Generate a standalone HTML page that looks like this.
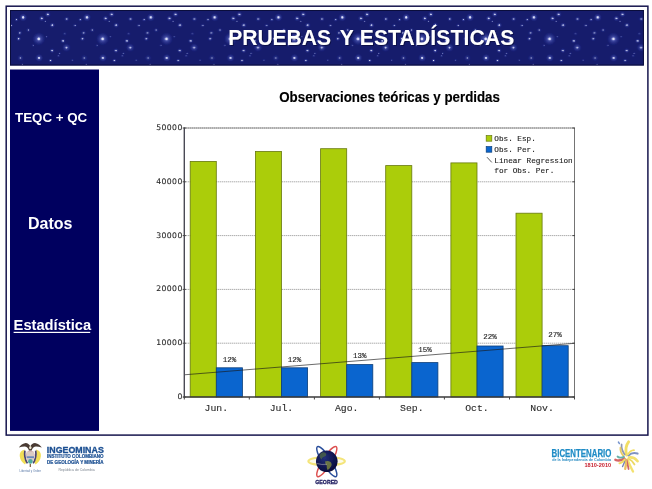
<!DOCTYPE html>
<html lang="es">
<head>
<meta charset="utf-8">
<title>Pruebas y Estadísticas</title>
<style>
html,body{margin:0;padding:0;background:#fff;}
body{width:652px;height:489px;overflow:hidden;position:relative;font-family:"Liberation Sans",sans-serif;}
svg{position:absolute;left:0;top:0;display:block;}
text{font-family:"Liberation Sans",sans-serif;}
.title{font-weight:bold;font-size:21px;fill:#fff;}
.side{font-weight:bold;fill:#fff;}
.ct{font-weight:bold;font-size:13.33px;fill:#000;stroke:#000;stroke-width:.15px;}
.yl{font-family:"DejaVu Sans","Liberation Sans",sans-serif;font-size:7.7px;fill:#2a2a2a;letter-spacing:.4px;stroke:#2a2a2a;stroke-width:.12px;}
.xl{font-family:"Liberation Mono",monospace;font-size:9.8px;fill:#2c2c2c;stroke:#2c2c2c;stroke-width:.12px;}
.pl{font-family:"Liberation Mono",monospace;font-size:7.5px;fill:#1c1c1c;stroke:#1c1c1c;stroke-width:.12px;}
.lg{font-family:"Liberation Mono",monospace;font-size:7.7px;fill:#1c1c1c;stroke:#1c1c1c;stroke-width:.12px;}
</style>
</head>
<body>
<svg width="652" height="489" viewBox="0 0 652 489">
<defs>
<radialGradient id="sg"><stop offset="0" stop-color="#aab4ff" stop-opacity=".9"/><stop offset=".45" stop-color="#6f7be0" stop-opacity=".45"/><stop offset="1" stop-color="#3c48b0" stop-opacity="0"/></radialGradient>
<radialGradient id="sc"><stop offset="0" stop-color="#ffffff" stop-opacity="1"/><stop offset=".6" stop-color="#e4e8ff" stop-opacity=".9"/><stop offset="1" stop-color="#b8c0ff" stop-opacity="0"/></radialGradient>
<pattern id="stars" x="10" y="10" width="63.85" height="64" patternUnits="userSpaceOnUse">
<rect width="64" height="64" fill="#131a6c"/>
<circle cx="13.1" cy="7.4" r="4.3" fill="url(#sg)" opacity="0.75"/>
<circle cx="13.1" cy="7.4" r="1.6" fill="url(#sc)" opacity="0.92"/>
<circle cx="6.4" cy="9.7" r="2.2" fill="url(#sg)" opacity="0.60"/>
<circle cx="6.4" cy="9.7" r="0.8" fill="url(#sc)" opacity="0.74"/>
<circle cx="31.7" cy="8.4" r="3.2" fill="url(#sg)" opacity="0.64"/>
<circle cx="31.7" cy="8.4" r="1.2" fill="url(#sc)" opacity="0.78"/>
<circle cx="37.8" cy="4.4" r="3.2" fill="url(#sg)" opacity="0.64"/>
<circle cx="37.8" cy="4.4" r="1.2" fill="url(#sc)" opacity="0.78"/>
<circle cx="35.3" cy="11.3" r="1.6" fill="url(#sg)" opacity="0.38"/>
<circle cx="35.3" cy="11.3" r="0.6" fill="url(#sc)" opacity="0.46"/>
<circle cx="42.3" cy="15.2" r="3.0" fill="url(#sg)" opacity="0.64"/>
<circle cx="42.3" cy="15.2" r="1.2" fill="url(#sc)" opacity="0.78"/>
<circle cx="56.7" cy="9.0" r="3.0" fill="url(#sg)" opacity="0.45"/>
<circle cx="56.7" cy="9.0" r="1.1" fill="url(#sc)" opacity="0.55"/>
<circle cx="18.4" cy="20.1" r="2.7" fill="url(#sg)" opacity="0.38"/>
<circle cx="18.4" cy="20.1" r="1.0" fill="url(#sc)" opacity="0.46"/>
<circle cx="9.8" cy="22.9" r="3.0" fill="url(#sg)" opacity="0.38"/>
<circle cx="9.8" cy="22.9" r="1.1" fill="url(#sc)" opacity="0.46"/>
<circle cx="8.6" cy="28.7" r="2.7" fill="url(#sg)" opacity="0.60"/>
<circle cx="8.6" cy="28.7" r="1.1" fill="url(#sc)" opacity="0.74"/>
<circle cx="28.8" cy="28.9" r="6.8" fill="url(#sg)" opacity="0.75"/>
<circle cx="28.8" cy="28.9" r="1.9" fill="url(#sc)" opacity="0.92"/>
<circle cx="36.6" cy="26.8" r="1.4" fill="url(#sg)" opacity="0.45"/>
<circle cx="36.6" cy="26.8" r="0.5" fill="url(#sc)" opacity="0.55"/>
<circle cx="53.0" cy="30.9" r="2.7" fill="url(#sg)" opacity="0.64"/>
<circle cx="53.0" cy="30.9" r="1.1" fill="url(#sc)" opacity="0.78"/>
<circle cx="54.8" cy="23.8" r="2.2" fill="url(#sg)" opacity="0.30"/>
<circle cx="54.8" cy="23.8" r="0.7" fill="url(#sc)" opacity="0.37"/>
<circle cx="1.0" cy="15.5" r="2.4" fill="url(#sg)" opacity="0.30"/>
<circle cx="1.0" cy="15.5" r="0.7" fill="url(#sc)" opacity="0.37"/>
<circle cx="64.8" cy="15.5" r="2.4" fill="url(#sg)" opacity="0.30"/>
<circle cx="64.8" cy="15.5" r="0.7" fill="url(#sc)" opacity="0.37"/>
<circle cx="56.4" cy="37.6" r="4.6" fill="url(#sg)" opacity="0.60"/>
<circle cx="56.4" cy="37.6" r="1.3" fill="url(#sc)" opacity="0.74"/>
<circle cx="42.1" cy="40.6" r="2.7" fill="url(#sg)" opacity="0.64"/>
<circle cx="42.1" cy="40.6" r="1.1" fill="url(#sc)" opacity="0.78"/>
<circle cx="23.1" cy="35.4" r="1.9" fill="url(#sg)" opacity="0.30"/>
<circle cx="23.1" cy="35.4" r="0.6" fill="url(#sc)" opacity="0.37"/>
<circle cx="49.7" cy="43.4" r="1.6" fill="url(#sg)" opacity="0.38"/>
<circle cx="49.7" cy="43.4" r="0.6" fill="url(#sc)" opacity="0.46"/>
<circle cx="48.5" cy="45.9" r="1.9" fill="url(#sg)" opacity="0.34"/>
<circle cx="48.5" cy="45.9" r="0.6" fill="url(#sc)" opacity="0.41"/>
<circle cx="10.4" cy="48.0" r="3.8" fill="url(#sg)" opacity="0.34"/>
<circle cx="10.4" cy="48.0" r="1.2" fill="url(#sc)" opacity="0.41"/>
<circle cx="29.1" cy="47.9" r="4.3" fill="url(#sg)" opacity="0.68"/>
<circle cx="29.1" cy="47.9" r="1.4" fill="url(#sc)" opacity="0.83"/>
<circle cx="40.5" cy="50.5" r="2.2" fill="url(#sg)" opacity="0.71"/>
<circle cx="40.5" cy="50.5" r="1.0" fill="url(#sc)" opacity="0.87"/>
<circle cx="-1.4" cy="50.1" r="1.6" fill="url(#sg)" opacity="0.34"/>
<circle cx="-1.4" cy="50.1" r="0.6" fill="url(#sc)" opacity="0.41"/>
<circle cx="62.4" cy="50.1" r="1.6" fill="url(#sg)" opacity="0.34"/>
<circle cx="62.4" cy="50.1" r="0.6" fill="url(#sc)" opacity="0.41"/>
<circle cx="1.5" cy="15.5" r="1.6" fill="url(#sg)" opacity="0.34"/>
<circle cx="1.5" cy="15.5" r="0.6" fill="url(#sc)" opacity="0.41"/>
<circle cx="65.3" cy="15.5" r="1.6" fill="url(#sg)" opacity="0.34"/>
<circle cx="65.3" cy="15.5" r="0.6" fill="url(#sc)" opacity="0.41"/>
<circle cx="12.3" cy="54.4" r="1.4" fill="url(#sg)" opacity="0.52"/>
<circle cx="12.3" cy="54.4" r="0.6" fill="url(#sc)" opacity="0.64"/>
</pattern>
<radialGradient id="globe" cx=".4" cy=".35" r=".75"><stop offset="0" stop-color="#22307a"/><stop offset=".6" stop-color="#10154e"/><stop offset="1" stop-color="#080a30"/></radialGradient>
<clipPath id="hc"><rect x="10" y="10" width="633.9" height="55.5"/></clipPath>
<filter id="sb" x="0" y="0" width="1" height="1"><feGaussianBlur stdDeviation="0.55"/></filter>
<filter id="b1" x="-20%" y="-20%" width="140%" height="140%"><feGaussianBlur stdDeviation="0.5"/></filter>
<filter id="b3" x="-20%" y="-20%" width="140%" height="140%"><feGaussianBlur stdDeviation="0.65"/></filter>
<filter id="tsh" x="-2%" y="-20%" width="104%" height="150%"><feOffset in="SourceAlpha" dx=".8" dy=".8" result="o"/><feFlood flood-color="#00001c" flood-opacity=".45"/><feComposite in2="o" operator="in" result="s"/><feMerge><feMergeNode in="s"/><feMergeNode in="SourceGraphic"/></feMerge></filter>
<filter id="b2" x="-20%" y="-20%" width="140%" height="140%"><feGaussianBlur stdDeviation="0.8"/></filter>
<filter id="ts" x="-5%" y="-20%" width="110%" height="150%"><feGaussianBlur stdDeviation="0.35"/></filter>
</defs>
<rect width="652" height="489" fill="#fff"/>
<!-- outer frame -->
<rect x="6.2" y="6.2" width="641.7" height="428.9" fill="none" stroke="#17164e" stroke-width="1.5"/>
<!-- header -->
<g clip-path="url(#hc)"><rect x="2" y="2" width="650" height="72" fill="url(#stars)" filter="url(#sb)"/></g>
<rect x="10.5" y="10.5" width="632.9" height="54.5" fill="none" stroke="#0a0d3c" stroke-width="1"/>
<g transform="translate(0,45.2) scale(1,1.05)">
<text class="title" y="0" filter="url(#tsh)"><tspan x="228.3">PRUEBAS</tspan> <tspan x="339.8">Y</tspan> <tspan x="359.7" letter-spacing=".2">ESTADÍSTICAS</tspan></text>
</g>
<!-- sidebar -->
<rect x="10" y="69.5" width="89" height="361.4" fill="#00005f"/>
<text class="side" x="15" y="122.2" font-size="13.33">TEQC + QC</text>
<text class="side" x="28" y="228.9" font-size="16">Datos</text>
<text class="side" x="13.6" y="330.2" font-size="14.7">Estadística</text>
<rect x="13.6" y="331.8" width="76.6" height="1.2" fill="#fff"/>
<!-- chart -->
<text class="ct" transform="translate(389.6,101.5) scale(1,1.07)" x="0" y="0" text-anchor="middle">Observaciones teóricas y perdidas</text>
<line x1="184.3" y1="343.2" x2="574.5" y2="343.2" stroke="#8a8a8a" stroke-width="1" stroke-dasharray="1 1"/>
<line x1="184.3" y1="289.4" x2="574.5" y2="289.4" stroke="#8a8a8a" stroke-width="1" stroke-dasharray="1 1"/>
<line x1="184.3" y1="235.6" x2="574.5" y2="235.6" stroke="#8a8a8a" stroke-width="1" stroke-dasharray="1 1"/>
<line x1="184.3" y1="181.8" x2="574.5" y2="181.8" stroke="#8a8a8a" stroke-width="1" stroke-dasharray="1 1"/>
<line x1="184.3" y1="128.0" x2="574.5" y2="128.0" stroke="#b0b0b0" stroke-width="1"/>
<line x1="184.3" y1="128.0" x2="574.5" y2="128.0" stroke="#505050" stroke-width="1" stroke-dasharray="1 1" opacity=".9"/>
<line x1="574.5" y1="128.0" x2="574.5" y2="397.0" stroke="#505050" stroke-width="0.8"/>
<rect x="190.2" y="161.4" width="26.1" height="235.6" fill="#abcd0a" stroke="#66780e" stroke-width="0.8"/>
<rect x="216.3" y="367.8" width="26.1" height="29.2" fill="#0a65cf" stroke="#0c3e78" stroke-width="0.8"/>
<rect x="255.4" y="151.5" width="26.1" height="245.5" fill="#abcd0a" stroke="#66780e" stroke-width="0.8"/>
<rect x="281.5" y="367.8" width="26.1" height="29.2" fill="#0a65cf" stroke="#0c3e78" stroke-width="0.8"/>
<rect x="320.6" y="148.7" width="26.1" height="248.3" fill="#abcd0a" stroke="#66780e" stroke-width="0.8"/>
<rect x="346.7" y="364.6" width="26.1" height="32.4" fill="#0a65cf" stroke="#0c3e78" stroke-width="0.8"/>
<rect x="385.7" y="165.6" width="26.1" height="231.4" fill="#abcd0a" stroke="#66780e" stroke-width="0.8"/>
<rect x="411.8" y="362.6" width="26.1" height="34.4" fill="#0a65cf" stroke="#0c3e78" stroke-width="0.8"/>
<rect x="450.9" y="162.9" width="26.1" height="234.1" fill="#abcd0a" stroke="#66780e" stroke-width="0.8"/>
<rect x="477.0" y="346.0" width="26.1" height="51.0" fill="#0a65cf" stroke="#0c3e78" stroke-width="0.8"/>
<rect x="516.0" y="213.2" width="26.1" height="183.8" fill="#abcd0a" stroke="#66780e" stroke-width="0.8"/>
<rect x="542.1" y="345.7" width="26.1" height="51.3" fill="#0a65cf" stroke="#0c3e78" stroke-width="0.8"/>
<line x1="184.3" y1="374.8" x2="574.5" y2="343.3" stroke="#1a1a1a" stroke-width="0.65"/>
<line x1="184.3" y1="127.5" x2="184.3" y2="397.8" stroke="#4a4a55" stroke-width="1.4"/>
<line x1="183.60000000000002" y1="397.0" x2="574.9" y2="397.0" stroke="#3a3a3a" stroke-width="1.4"/>
<line x1="182.70000000000002" y1="397.0" x2="185.9" y2="397.0" stroke="#444" stroke-width="1"/>
<line x1="572.5" y1="397.0" x2="575.0" y2="397.0" stroke="#444" stroke-width="1"/>
<line x1="182.70000000000002" y1="343.2" x2="185.9" y2="343.2" stroke="#444" stroke-width="1"/>
<line x1="572.5" y1="343.2" x2="575.0" y2="343.2" stroke="#444" stroke-width="1"/>
<line x1="182.70000000000002" y1="289.4" x2="185.9" y2="289.4" stroke="#444" stroke-width="1"/>
<line x1="572.5" y1="289.4" x2="575.0" y2="289.4" stroke="#444" stroke-width="1"/>
<line x1="182.70000000000002" y1="235.6" x2="185.9" y2="235.6" stroke="#444" stroke-width="1"/>
<line x1="572.5" y1="235.6" x2="575.0" y2="235.6" stroke="#444" stroke-width="1"/>
<line x1="182.70000000000002" y1="181.8" x2="185.9" y2="181.8" stroke="#444" stroke-width="1"/>
<line x1="572.5" y1="181.8" x2="575.0" y2="181.8" stroke="#444" stroke-width="1"/>
<line x1="182.70000000000002" y1="128.0" x2="185.9" y2="128.0" stroke="#444" stroke-width="1"/>
<line x1="572.5" y1="128.0" x2="575.0" y2="128.0" stroke="#444" stroke-width="1"/>
<line x1="184.3" y1="397.0" x2="184.3" y2="399.5" stroke="#444" stroke-width="1"/>
<line x1="249.3" y1="397.0" x2="249.3" y2="399.5" stroke="#444" stroke-width="1"/>
<line x1="314.4" y1="397.0" x2="314.4" y2="399.5" stroke="#444" stroke-width="1"/>
<line x1="379.4" y1="397.0" x2="379.4" y2="399.5" stroke="#444" stroke-width="1"/>
<line x1="444.4" y1="397.0" x2="444.4" y2="399.5" stroke="#444" stroke-width="1"/>
<line x1="509.5" y1="397.0" x2="509.5" y2="399.5" stroke="#444" stroke-width="1"/>
<line x1="574.5" y1="397.0" x2="574.5" y2="399.5" stroke="#444" stroke-width="1"/>
<text class="yl" x="182.7" y="399.0" text-anchor="end">0</text>
<text class="yl" x="182.7" y="345.2" text-anchor="end">10000</text>
<text class="yl" x="182.7" y="291.4" text-anchor="end">20000</text>
<text class="yl" x="182.7" y="237.6" text-anchor="end">30000</text>
<text class="yl" x="182.7" y="183.8" text-anchor="end">40000</text>
<text class="yl" x="182.7" y="130.0" text-anchor="end">50000</text>
<text class="xl" x="216.3" y="410.8" text-anchor="middle">Jun.</text>
<text class="xl" x="281.5" y="410.8" text-anchor="middle">Jul.</text>
<text class="xl" x="346.7" y="410.8" text-anchor="middle">Ago.</text>
<text class="xl" x="411.8" y="410.8" text-anchor="middle">Sep.</text>
<text class="xl" x="477.0" y="410.8" text-anchor="middle">Oct.</text>
<text class="xl" x="542.1" y="410.8" text-anchor="middle">Nov.</text>
<text class="pl" x="229.4" y="362.2" text-anchor="middle">12%</text>
<text class="pl" x="294.6" y="361.7" text-anchor="middle">12%</text>
<text class="pl" x="359.7" y="357.6" text-anchor="middle">13%</text>
<text class="pl" x="424.9" y="352.1" text-anchor="middle">15%</text>
<text class="pl" x="490.0" y="338.7" text-anchor="middle">22%</text>
<text class="pl" x="555.1" y="336.8" text-anchor="middle">27%</text>
<rect x="486.2" y="135.6" width="5.6" height="5.6" fill="#abcd0a" stroke="#66780e" stroke-width="0.7"/>
<rect x="486.2" y="146.6" width="5.6" height="5.6" fill="#0a65cf" stroke="#0c3e78" stroke-width="0.7"/>
<line x1="487" y1="157.2" x2="491.8" y2="162.4" stroke="#333" stroke-width="0.8"/>
<text class="lg" x="494.3" y="141.3">Obs. Esp.</text>
<text class="lg" x="494.3" y="151.9">Obs. Per.</text>
<text class="lg" x="494.3" y="163.1">Linear Regression</text>
<text class="lg" x="494.3" y="173.0">for Obs. Per.</text>
<!-- LOGOS -->
<g id="logos">
<!-- INGEOMINAS coat of arms -->
<g filter="url(#b3)" opacity=".92">
<path d="M24.6,449.6 Q19.3,451 19.7,456 Q20.4,461.6 25,464.4 L26.4,462 Q23.2,458 24.6,449.6 Z" fill="#f0dc48"/>
<path d="M36,449.6 Q41.3,451 40.9,456 Q40.2,461.6 35.6,464.4 L34.2,462 Q37.4,458 36,449.6 Z" fill="#f0dc48"/>
<path d="M24.9,450.6 Q23.8,457.5 27.4,463.4" fill="none" stroke="#3d3664" stroke-width="1.7"/>
<path d="M35.7,450.6 Q36.8,457.5 33.2,463.4" fill="none" stroke="#3d3664" stroke-width="1.7"/>
<ellipse cx="30.3" cy="455" rx="4.3" ry="4.4" fill="#c9979a"/>
<path d="M26.4,451.5 h7.8 v6 q0,4 -3.9,6 q-3.9,-2 -3.9,-6 z" fill="#d9c7c0"/>
<rect x="26.6" y="456.3" width="7.4" height="1.8" fill="#5d7fb6"/>
<circle cx="30.4" cy="461.4" r="2.3" fill="#3fa597"/>
<rect x="29.7" y="464" width="1.2" height="3" fill="#6b4a2a"/>
<path d="M18.8,447.6 Q20.6,444.2 25.6,442.9 Q28.8,443 30.3,446.2 Q31.8,443 35,442.9 Q40,444.2 41.8,447.6 Q38.6,446.6 36,446.6 Q33,446.8 31.6,450.5 L29,450.5 Q27.6,446.8 24.6,446.6 Q22,446.6 18.8,447.6 Z" fill="#3a2c22"/>
<ellipse cx="30.3" cy="447.6" rx="1.2" ry="1.7" fill="#efe6cf"/>
</g>
<text x="30.3" y="471.6" text-anchor="middle" font-size="2.9" fill="#5a7aa8">Libertad y Orden</text>
<text x="46.8" y="452.5" font-size="9.9" font-weight="bold" fill="#1b4f92" stroke="#1b4f92" stroke-width=".35" textLength="57" lengthAdjust="spacingAndGlyphs">INGEOMINAS</text>
<text x="47" y="458.3" font-size="4.5" font-weight="bold" fill="#1b4f92" stroke="#1b4f92" stroke-width=".2" textLength="56.6" lengthAdjust="spacingAndGlyphs">INSTITUTO COLOMBIANO</text>
<text x="47" y="464.2" font-size="4.5" font-weight="bold" fill="#1b4f92" stroke="#1b4f92" stroke-width=".2" textLength="56.6" lengthAdjust="spacingAndGlyphs">DE GEOLOGÍA Y MINERÍA</text>
<text x="76.5" y="471.3" text-anchor="middle" font-size="3.5" fill="#7c8590">República de Colombia</text>
<!-- GEORED -->
<g filter="url(#b1)">
<ellipse cx="326.6" cy="461.2" rx="18.2" ry="4.2" fill="#fbf6c8" fill-opacity=".5" stroke="#f0dc50" stroke-width="2.2" opacity=".75"/>
<ellipse cx="326.8" cy="461.6" rx="4.4" ry="17.6" fill="none" stroke="#2a4f9c" stroke-width="1.5" transform="rotate(-32 326.8 461.6)"/>
<ellipse cx="326.8" cy="461.6" rx="4.4" ry="17.6" fill="none" stroke="#dc5050" stroke-width="1.5" transform="rotate(32 326.8 461.6)"/>
<circle cx="326.8" cy="461.3" r="10.8" fill="url(#globe)"/>
<path d="M321,453 q3,-1.5 5,0.5 q1,2 -1.5,3 q-2.5,0.5 -3,3 q-1.5,-1 -2,-3.5 q0,-2 1.500,-3 z" fill="#5d7a3a" opacity=".6"/>
<path d="M325,461.5 q3,-1.2 5.500,0.500 q2,2 0.500,4.500 q-1.5,2.500 -3.500,3.500 q-1,-2 -0.800,-4.500 q-1.500,-1.500 -1.700,-4 z" fill="#8f9a3a" opacity=".7"/>
<path d="M316.800,463.500 q5,1.500 10,0.800" fill="none" stroke="#e8e4d8" stroke-width=".6" opacity=".7"/>
</g>
<text x="326.6" y="483.6" text-anchor="middle" font-size="5.3" font-weight="bold" fill="#1d1b5e" stroke="#1d1b5e" stroke-width=".3" textLength="22.6" lengthAdjust="spacingAndGlyphs">GEORED</text>
<!-- BICENTENARIO -->
<text x="551.6" y="456.8" font-size="10" font-weight="bold" fill="#1f8cc6" stroke="#1f8cc6" stroke-width=".25" textLength="59.8" lengthAdjust="spacingAndGlyphs">BICENTENARIO</text>
<text x="552.2" y="461" font-size="3.6" font-weight="bold" fill="#2a8cc2" textLength="58.8" lengthAdjust="spacingAndGlyphs">de la Independencia de Colombia</text>
<text x="611.2" y="466.6" text-anchor="end" font-size="5.6" font-weight="bold" fill="#c8202f">1810-2010</text>
<g filter="url(#b3)" fill="none" stroke-linecap="round" opacity=".85">
<path d="M626.5,455 Q624.5,447 628.6,441.8" stroke="#f0d94a" stroke-width="2.90"/>
<path d="M624.6,454.5 Q621,449 621.6,444.5" stroke="#7d86a8" stroke-width="1.74"/>
<path d="M623.4,456 Q620,452 620.4,447.5" stroke="#e3c34a" stroke-width="1.74"/>
<path d="M618.4,442 L619.4,443.6" stroke="#5b7fc4" stroke-width="1.45"/>
<path d="M628.5,455.5 Q632,452 637.6,453.6" stroke="#6a80b8" stroke-width="2.03"/>
<path d="M628.2,454.2 Q630,450.5 634,450.2" stroke="#f0d94a" stroke-width="1.74"/>
<path d="M629,457.5 Q634,456.5 637.6,461.2" stroke="#f1dc55" stroke-width="2.61"/>
<path d="M628.4,459 Q632,460 634.5,464.500" stroke="#e8d24a" stroke-width="1.74"/>
<path d="M627.4,459.500 Q629.5,465 633,471.500" stroke="#f1dc55" stroke-width="2.32"/>
<path d="M626.6,460 Q627.8,465 628.6,469" stroke="#c9474d" stroke-width="1.74"/>
<path d="M625.6,459.6 Q626.500,464.500 625.2,468.800" stroke="#e9b64a" stroke-width="2.32"/>
<path d="M624.8,459 Q624.6,463 622.6,466.500" stroke="#5b6aa8" stroke-width="1.45"/>
<path d="M624.2,458.4 Q620,461.500 615.4,459.800" stroke="#d04a4a" stroke-width="2.46"/>
<path d="M623.8,456.800 Q620.500,458.500 617.6,456.600" stroke="#4fa59a" stroke-width="1.89"/>
<path d="M624.6,459.600 Q622,463.600 619.4,463.200" stroke="#f0d94a" stroke-width="1.89"/>
</g>
</g>
</svg>
</body>
</html>
